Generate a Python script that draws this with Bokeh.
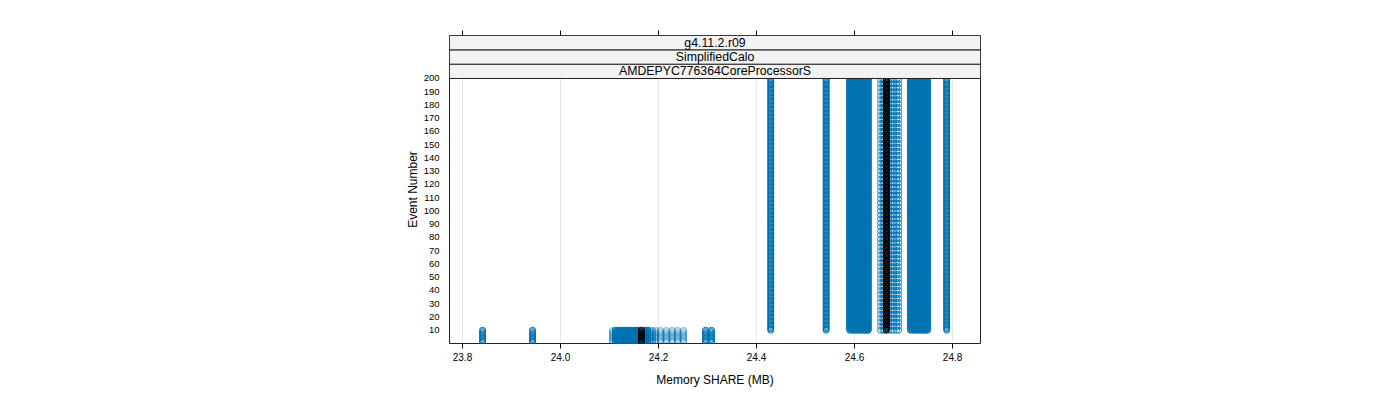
from bokeh.plotting import figure
from bokeh.models import Range1d, FixedTicker, LinearAxis, ColumnDataSource, CustomJSTickFormatter
from bokeh.embed import file_html
from bokeh.resources import INLINE

# ---- data ----
# Memory SHARE levels (MB) seen in the first events (event numbers 1-10)
early_dense_x = [23.841, 23.943, 24.112, 24.116, 24.120, 24.124, 24.128, 24.132,
                 24.136, 24.140, 24.144, 24.148, 24.152, 24.156, 24.160, 24.170,
                 24.174, 24.178, 24.296, 24.308]
early_sparse_x = [24.106, 24.183, 24.188, 24.194, 24.204, 24.216, 24.228, 24.239, 24.251]
early_ref_x = [24.165]
early_events = list(range(1, 11))

# Memory SHARE levels (MB) seen in later events (event numbers 10-200)
late_dense_x = [24.429, 24.542,
                24.590, 24.594, 24.598, 24.602, 24.606, 24.610, 24.614, 24.618,
                24.622, 24.626, 24.628,
                24.714, 24.718, 24.722, 24.726, 24.730, 24.734, 24.738, 24.742,
                24.746, 24.749, 24.788]
late_sparse_x = [24.653, 24.658, 24.661, 24.670, 24.675, 24.680, 24.686, 24.690]
late_ref_x = [24.665]
late_events = list(range(10, 201))
late_sparse_events = list(range(10, 201, 3))
early_sparse_events = list(range(1, 11, 1))

x_ticks = [23.8, 24.0, 24.2, 24.4, 24.6, 24.8]
y_ticks = [10, 20, 30, 40, 50, 60, 70, 80, 90, 100, 110, 120, 130, 140, 150,
           160, 170, 180, 190, 200]
strip_labels = ["AMDEPYC776364CoreProcessorS", "SimplifiedCalo", "g4.11.2.r09"]

BLUE = "#0072B2"
FONT = "Liberation Sans"


def expand(xs, evs):
    px, py = [], []
    for x in xs:
        for e in evs:
            px.append(x)
            py.append(e)
    return px, py


p = figure(width=1400, height=400, output_backend="svg", toolbar_location=None,
           x_range=Range1d(23.7735, 24.857), y_range=Range1d(0, 232.45),
           min_border_left=449, min_border_right=420, min_border_top=35,
           min_border_bottom=57, x_axis_location=None, y_axis_location=None)
p.background_fill_color = "white"
p.border_fill_color = "white"
p.outline_line_color = "#222222"
p.outline_line_width = 1

# vertical grid lines only (under strips)
for xt in x_ticks:
    p.segment(x0=[xt], y0=[0], x1=[xt], y1=[200], line_color="#e6e6e6", line_width=1)

def draw(xs, evs, color, alpha=1.0):
    px, py = expand(xs, evs)
    p.scatter(px, py, marker="circle", size=6, fill_color=None,
              line_color=color, line_width=1, line_alpha=alpha)

draw(early_dense_x, early_events, BLUE)
draw(early_sparse_x, early_sparse_events, BLUE, 0.45)
draw(late_dense_x, late_events, BLUE)
draw(late_sparse_x, late_sparse_events, BLUE, 0.8)
draw(early_ref_x, early_events, "black")
draw(late_ref_x, late_events, "black")

# strips
h = 32.45 / 3
bottoms = [200 + i * h for i in range(3)]
src = ColumnDataSource(dict(
    left=[23.7735] * 3, right=[24.857] * 3,
    bottom=bottoms, top=[b + h for b in bottoms],
    xm=[(23.7735 + 24.857) / 2] * 3, ym=[b + h / 2 for b in bottoms],
    label=strip_labels))
p.quad(left="left", right="right", bottom="bottom", top="top", source=src,
       fill_color="#f2f2f2", line_color="#222222", line_width=1)
p.text(x="xm", y="ym", text="label", source=src, text_align="center",
       text_baseline="middle", text_font_size="12.3px", text_color="black",
       text_font={"value": FONT})

p.xgrid.visible = False
p.ygrid.visible = False

xt = FixedTicker(ticks=x_ticks)
fmt = CustomJSTickFormatter(code="return tick.toFixed(1);")

bottom = LinearAxis(ticker=xt, formatter=fmt, axis_label="Memory SHARE (MB)")
bottom.axis_line_color = None
bottom.major_tick_line_color = "black"
bottom.major_tick_out = 5
bottom.major_tick_in = 0
bottom.minor_tick_line_color = None
bottom.major_label_standoff = 4
bottom.major_label_text_font = FONT
bottom.major_label_text_font_size = "10px"
bottom.major_label_text_color = "black"
bottom.axis_label_text_font = FONT
bottom.axis_label_text_font_size = "12px"
bottom.axis_label_text_font_style = "normal"
bottom.axis_label_text_color = "black"
bottom.axis_label_standoff = 9
p.add_layout(bottom, "below")

top = LinearAxis(ticker=xt, formatter=fmt)
top.axis_line_color = None
top.major_tick_line_color = "black"
top.major_tick_out = 5
top.major_tick_in = 0
top.minor_tick_line_color = None
top.major_label_text_font_size = "0px"
top.major_label_text_color = None
p.add_layout(top, "above")

left = LinearAxis(ticker=FixedTicker(ticks=y_ticks), axis_label="Event Number")
left.axis_line_color = None
left.major_tick_line_color = None
left.minor_tick_line_color = None
left.major_label_standoff = 4
left.major_label_text_font = FONT
left.major_label_text_font_size = "9.5px"
left.major_label_text_color = "black"
left.axis_label_text_font = FONT
left.axis_label_text_font_size = "12px"
left.axis_label_text_font_style = "normal"
left.axis_label_text_color = "black"
left.axis_label_standoff = 1
p.add_layout(left, "left")

open("out.html", "w").write(file_html(p, INLINE))
